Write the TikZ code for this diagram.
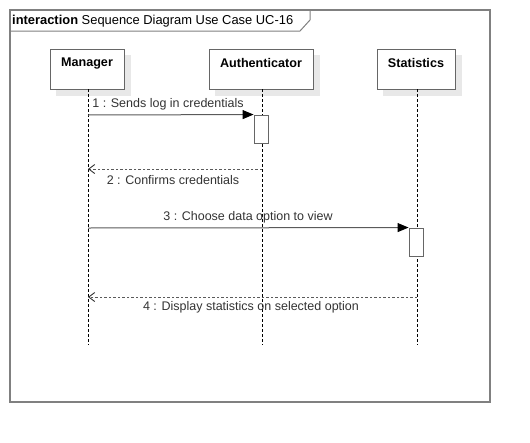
\documentclass[tikz,border=0pt]{standalone}
\usepackage{fontspec}
\setmainfont{Liberation Sans}
\usetikzlibrary{arrows.meta,backgrounds}
\definecolor{framec}{HTML}{808080}
\definecolor{boxc}{HTML}{666666}
\definecolor{shadowc}{HTML}{E8E8E8}
\definecolor{msgc}{HTML}{5A5A5A}
\definecolor{txtc}{HTML}{333333}
\begin{document}
\begin{tikzpicture}[x=1pt,y=-1pt,
  lifebox/.style={draw=boxc,line width=1pt,fill=white,minimum height=40pt,inner sep=0pt},
  boxlabel/.style={font=\fontsize{12.6}{14}\selectfont\bfseries,text=black,inner sep=0pt},
  actbox/.style={draw=boxc,line width=0.9pt,fill=white,minimum width=14pt,minimum height=28pt,inner sep=0pt},
  lifeline/.style={draw=black,line width=0.7pt,dash pattern=on 3pt off 2pt},
  msg/.style={draw=msgc,line width=1pt,-{Triangle[length=11pt,width=9pt,fill=black,color=black]}},
  ret/.style={draw=msgc,line width=0.9pt,dash pattern=on 2.5pt off 2pt,-{Straight Barb[length=6pt,width=9pt,color=txtc]}},
  msglabel/.style={font=\fontsize{12.5}{14}\selectfont,text=txtc,inner sep=0pt}]
\useasboundingbox (0,0) rectangle (530,442);
% frame
\draw[framec,line width=1.5pt] (10,10) rectangle (490,402);
\draw[framec,line width=1pt] (10,31) -- (300,31) -- (310,20) -- (310,10);
\node[anchor=west,inner sep=0pt,font=\fontsize{12.9}{15}\selectfont] (title) at (12,21) {\textbf{interaction} Sequence Diagram Use Case UC-16};
% lifeline boxes
\node[lifebox,minimum width=74pt] (mgr) at (87,69) {};
\node[lifebox,minimum width=104pt] (auth) at (261,69) {};
\node[lifebox,minimum width=78pt] (stat) at (416,69) {};
\node[boxlabel] (mgrl) at (87,63) {Manager};
\node[boxlabel] (authl) at (261,63) {Authenticator};
\node[boxlabel] (statl) at (416,63) {Statistics};
\begin{scope}[on background layer]
  \fill[white] (0,0) rectangle (530,442);
  \foreach \n in {mgr,auth,stat}
    \fill[shadowc] ([shift={(6,6)}]\n.north west) rectangle ([shift={(6,6)}]\n.south east);
\end{scope}
% lifelines
\coordinate (mgrtop) at (88,89);
\coordinate (authtop) at (262,89);
\coordinate (stattop) at (417,89);
\coordinate (mgrend) at (88,345);
\coordinate (authend) at (262,345);
\coordinate (statend) at (417,345);
\draw[lifeline] (mgrtop) -- (mgrend);
\draw[lifeline] (authtop) -- (authend);
\draw[lifeline] (stattop) -- (statend);
% activations
\node[actbox] (act1) at (261,129) {};
\node[actbox] (act2) at (416,242) {};
% message points
\coordinate (m1s) at (88,115);
\coordinate (m2s) at (262,169);
\coordinate (m2e) at (88,169);
\coordinate (m3s) at (88,228);
\coordinate (m4s) at (417,297);
\coordinate (m4e) at (88,297);
\draw[msg] (m1s) -- (act1.north west);
\draw[ret] (m2s) -- (m2e);
\draw[msg] (m3s) -- (act2.north west);
\draw[ret] (m4s) -- (m4e);
\node[msglabel] (l1) at (168,104) {1 : Sends log in credentials};
\node[msglabel] (l2) at (173,180) {2 : Confirms credentials};
\node[msglabel] (l3) at (248,217) {3 : Choose data option to view};
\node[msglabel] (l4) at (251,307) {4 : Display statistics on selected option};
\end{tikzpicture}
\end{document}
